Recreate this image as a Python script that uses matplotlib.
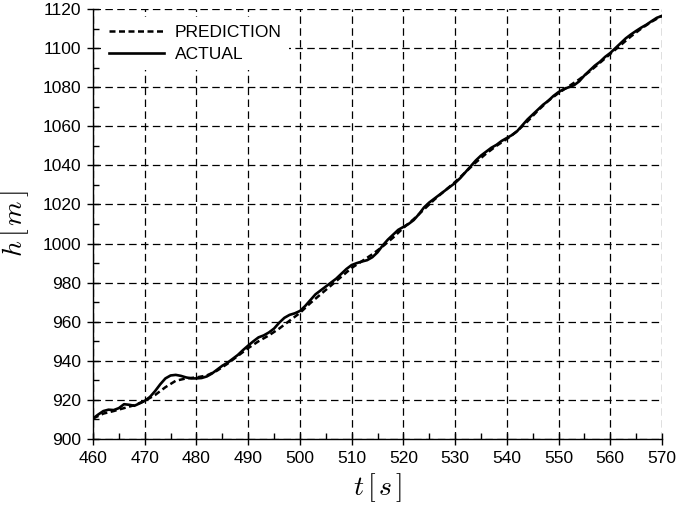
import matplotlib
matplotlib.use("Agg")
import matplotlib.pyplot as plt
from matplotlib.ticker import MultipleLocator

plt.rcParams['font.family'] = ['Liberation Sans', 'DejaVu Sans']
plt.rcParams['mathtext.fontset'] = 'cm'

t_actual = [460, 461, 462, 463, 464, 465, 466, 467, 468, 469, 470, 471, 472, 473, 474,
            475, 476, 477, 478, 479, 480, 481, 482, 483, 484, 485, 486, 487, 488, 489,
            490, 491, 492, 493, 494, 495, 496, 497, 498, 499, 500, 501, 502, 503, 504,
            505, 506, 507, 508, 509, 510, 511, 512, 513, 514, 515, 516, 517, 518, 519,
            520, 521, 522, 523, 524, 525, 526, 527, 528, 529, 530, 531, 532, 533, 534,
            535, 536, 537, 538, 539, 540, 541, 542, 543, 544, 545, 546, 547, 548, 549,
            550, 551, 552, 553, 554, 555, 556, 557, 558, 559, 560, 561, 562, 563, 564,
            565, 566, 567, 568, 569, 570]
h_actual = [910.5, 912.5, 914.3, 915.0, 914.8, 915.8, 917.8, 917.5, 917.0, 918.2, 919.5,
            921.5, 924.5, 928.0, 931.0, 932.5, 932.8, 932.3, 931.5, 931.0, 931.0, 931.2,
            932.0, 933.5, 935.5, 937.5, 939.0, 941.0, 943.0, 945.5, 947.8, 950.0, 952.0,
            953.0, 954.5, 956.5, 959.5, 962.0, 963.5, 964.3, 965.5, 968.0, 971.0, 974.0,
            976.0, 978.0, 980.0, 982.0, 984.5, 987.0, 989.0, 990.0, 990.8, 991.5, 993.0,
            995.5, 999.0, 1002.0, 1004.5, 1007.0, 1008.5, 1010.0, 1012.0, 1015.0, 1018.5,
            1021.0, 1023.0, 1025.0, 1027.0, 1029.0, 1031.0, 1033.5, 1036.5, 1039.5, 1042.5,
            1045.0, 1047.0, 1049.0, 1050.5, 1052.5, 1054.0, 1055.5, 1057.5, 1060.5, 1063.5,
            1066.0, 1068.5, 1071.0, 1073.0, 1075.5, 1077.5, 1079.0, 1080.0, 1081.0, 1083.0,
            1086.0, 1088.5, 1091.0, 1093.0, 1095.5, 1097.5, 1100.0, 1102.5, 1105.0, 1107.0,
            1108.8, 1110.5, 1112.0, 1113.8, 1115.5, 1116.5]

t_pred = [460, 462, 464, 466, 468, 470, 472, 474, 476, 478, 480, 482, 484, 486, 488,
          490, 492, 494, 496, 498, 500, 502, 504, 506, 508, 510, 512, 514, 516, 518,
          520, 522, 524, 526, 528, 530, 532, 534, 536, 538, 540, 542, 544, 546, 548,
          550, 552, 554, 556, 558, 560, 562, 564, 566, 568, 570]
h_pred = [910.5, 913.0, 914.3, 915.8, 917.3, 919.5, 922.5, 926.5, 929.8, 931.0, 931.5,
          932.5, 935.0, 938.5, 942.5, 946.5, 950.0, 953.0, 956.5, 960.5, 964.5, 969.5,
          974.0, 978.5, 983.0, 987.5, 991.0, 994.5, 998.5, 1003.0, 1008.0, 1012.5,
          1017.5, 1022.5, 1027.0, 1031.5, 1036.5, 1041.5, 1046.0, 1050.0, 1053.5,
          1057.5, 1062.5, 1068.0, 1073.0, 1077.0, 1080.5, 1084.0, 1088.0, 1092.5,
          1097.0, 1101.5, 1106.0, 1110.0, 1113.5, 1116.5]

x_ticks = list(range(460, 571, 10))
y_ticks = list(range(900, 1121, 20))

fig = plt.figure(figsize=(6.77, 5.08), dpi=100)
ax = fig.add_axes([93/677, 1-439/508, (662-93)/677, (439-9)/508])

ax.plot(t_pred, h_pred, color='black', lw=1.8, linestyle=(0, (2.4, 1.4)), label='PREDICTION', zorder=3)
ax.plot(t_actual, h_actual, color='black', lw=1.9, linestyle='-', label='ACTUAL', zorder=4)

ax.set_xlim(460, 570)
ax.set_ylim(900, 1120)
ax.set_xticks(x_ticks)
ax.set_yticks(y_ticks)
ax.xaxis.set_minor_locator(MultipleLocator(5))
ax.yaxis.set_minor_locator(MultipleLocator(10))
ax.tick_params(which='major', direction='inout', length=9, width=1, labelsize=12.5, pad=4)
ax.tick_params(which='minor', direction='in', length=4, width=1)

ax.grid(True, which='major', color='black', lw=0.9, linestyle=(0, (6, 3.5)))
ax.spines['top'].set_visible(False)
ax.spines['right'].set_visible(False)
ax.spines['left'].set_linewidth(1.0)
ax.spines['bottom'].set_linewidth(1.0)

ax.set_xlabel(r'$t\,[\,s\,]$', fontsize=20, labelpad=4)
ax.set_ylabel(r'$h\,[\,m\,]$', fontsize=20, labelpad=8)

leg = ax.legend(loc='upper left', frameon=True, fontsize=12.5, handlelength=3.2,
                handletextpad=0.6, borderaxespad=0.45, labelspacing=0.42,
                fancybox=False, framealpha=1.0, borderpad=0.45)
leg.get_frame().set_facecolor('white')
leg.get_frame().set_edgecolor('none')
leg.set_zorder(5)

fig.savefig('out.png', dpi=100)
